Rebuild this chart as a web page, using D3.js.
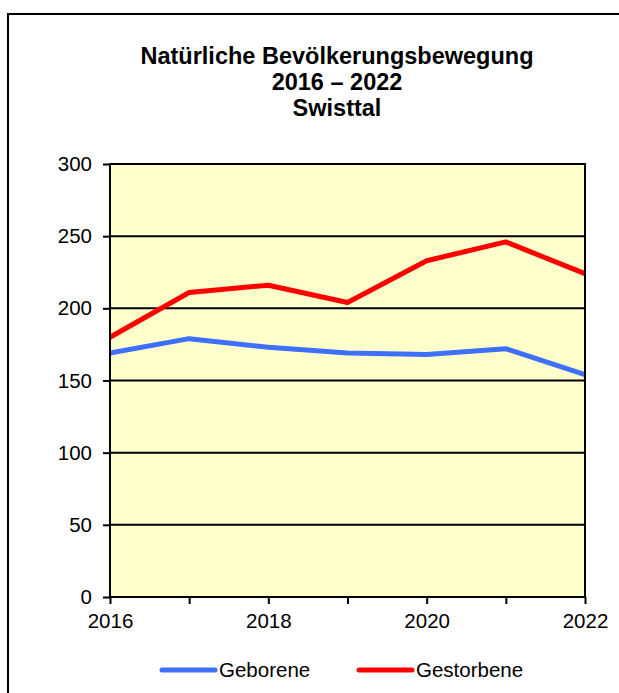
<!DOCTYPE html>
<html>
<head>
<meta charset="utf-8">
<script src="https://cdn.jsdelivr.net/npm/d3@7/dist/d3.min.js"></script>
<style>
    body { margin: 0; background: #fff; }
    svg { display: block; font-family: Arial, "Liberation Sans", sans-serif; }
</style>
</head>
<body>
<div id="chart"></div>
<script>
    "use strict";

    // Daten
    const years = [2016, 2017, 2018, 2019, 2020, 2021, 2022];
    const geborene = [169, 179, 173, 169, 168, 172, 154];
    const gestorbene = [180, 211, 216, 204, 233, 246, 224];
    const yTicks = [0, 50, 100, 150, 200, 250, 300];
    const xLabels = [2016, 2018, 2020, 2022];
    const titleLines = ["Natürliche Bevölkerungsbewegung", "2016 – 2022", "Swisttal"];
    const seriesNames = ["Geborene", "Gestorbene"];

    const width = 619, height = 693;
    const plot = {left: 110, top: 164, right: 585, bottom: 597};
    const colors = ["#3F6FFF", "#FF0000"];
    const fontFamily = "Arial, 'Liberation Sans', sans-serif";

    let svg = d3.select("#chart")
        .append("svg")
        .attr("width", width)
        .attr("height", height);

    // äußerer Rahmen
    svg.append("rect")
        .attr("x", 8).attr("y", 14)
        .attr("width", 660).attr("height", 720)
        .attr("fill", "#fff")
        .attr("stroke", "#000")
        .attr("stroke-width", 2);

    // Titel
    svg.append("g")
        .selectAll("text")
        .data(titleLines)
        .enter()
        .append("text")
        .attr("x", 337)
        .attr("y", (d, i) => 63.5 + i * 26.3)
        .attr("text-anchor", "middle")
        .style("font-weight", "bold")
        .style("font-size", "23.5px")
        .text(d => d);

    let x = d3.scaleLinear().domain([2016, 2022]).range([plot.left, plot.right]);
    let y = d3.scaleLinear().domain([0, 300]).range([plot.bottom, plot.top]);

    // Hintergrund
    svg.append("rect")
        .attr("x", plot.left).attr("y", plot.top)
        .attr("width", plot.right - plot.left)
        .attr("height", plot.bottom - plot.top)
        .attr("fill", "#FFFFCC");

    // Gitterlinien
    svg.append("g")
        .selectAll("line")
        .data(yTicks)
        .enter()
        .append("line")
        .attr("x1", plot.left).attr("x2", plot.right)
        .attr("y1", d => y(d)).attr("y2", d => y(d))
        .attr("stroke", "#000")
        .attr("stroke-width", 2);

    // Linien
    let line = d3.line()
        .x((d, i) => x(years[i]))
        .y(d => y(d));

    svg.append("g")
        .selectAll("path")
        .data([geborene, gestorbene])
        .enter()
        .append("path")
        .attr("d", line)
        .attr("fill", "none")
        .attr("stroke", (d, i) => colors[i])
        .attr("stroke-width", 5)
        .attr("stroke-linejoin", "round");

    // Rahmen Plotbereich
    svg.append("rect")
        .attr("x", plot.left).attr("y", plot.top)
        .attr("width", plot.right - plot.left)
        .attr("height", plot.bottom - plot.top)
        .attr("fill", "none")
        .attr("stroke", "#000")
        .attr("stroke-width", 2);

    // Y-Achse
    let yAxis = svg.append("g")
        .attr("transform", `translate(${plot.left},0)`)
        .call(d3.axisLeft(y).tickValues(yTicks).tickSize(7).tickPadding(11));
    yAxis.select(".domain").remove();
    yAxis.selectAll("line").attr("stroke", "#000").attr("stroke-width", 2);
    yAxis.selectAll("text").style("font-size", "20.5px").attr("fill", "#000")
        .style("font-family", fontFamily);

    // X-Achse
    let xAxis = svg.append("g")
        .attr("transform", `translate(0,${plot.bottom})`)
        .call(d3.axisBottom(x).tickValues(years).tickSize(7).tickPadding(9)
            .tickFormat(d => xLabels.includes(d) ? d : ""));
    xAxis.select(".domain").remove();
    xAxis.selectAll("line").attr("stroke", "#000").attr("stroke-width", 2);
    xAxis.selectAll("text").style("font-size", "20.5px").attr("fill", "#000")
        .style("font-family", fontFamily);

    // Legende
    let legend = svg.append("g")
        .selectAll("g")
        .data(seriesNames)
        .enter()
        .append("g")
        .attr("transform", (d, i) => `translate(${[162, 359][i]},670)`);

    legend.append("line")
        .attr("x1", 0).attr("x2", 53)
        .attr("stroke", (d, i) => colors[i])
        .attr("stroke-width", 5)
        .attr("stroke-linecap", "round");

    legend.append("text")
        .attr("x", 57)
        .attr("y", 7)
        .style("font-size", "20.5px")
        .text(d => d);
</script>
</body>
</html>
